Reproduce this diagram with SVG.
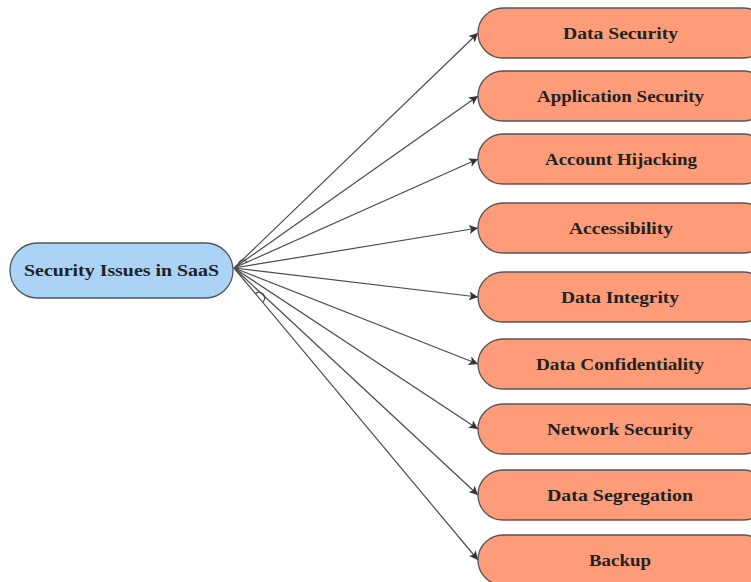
<svg xmlns="http://www.w3.org/2000/svg" width="751" height="582" viewBox="0 0 751 582">
  <defs>
    <marker id="arrow" viewBox="0 0 10 10" refX="10" refY="5" markerWidth="9" markerHeight="9" markerUnits="userSpaceOnUse" orient="auto">
      <path d="M0,0 L10,5 L0,10 L2.5,5 Z" fill="#333"/>
    </marker>
    <style>
      .bg { fill: #ffffff; }
      .root { fill: #abd3f6; stroke: #555; stroke-width: 1.3; }
      .leaf { fill: #fe9c79; stroke: #555; stroke-width: 1.3; }
      .label { font-family: "Liberation Serif", "Times New Roman", serif; font-weight: bold; font-size: 17px; fill: #222; text-anchor: middle; }
      .edge { fill: none; stroke: #4a4a4a; stroke-width: 1.2; marker-end: url(#arrow); }
      .hop { fill: none; stroke: #4a4a4a; stroke-width: 1.2; }
    </style>
  </defs>
  <rect class="bg" x="0" y="0" width="751" height="582"/>

  <g id="connectors">
    <path class="edge" d="M234,268 L478,33"/>
    <path class="edge" d="M234,268 L478,96"/>
    <path class="edge" d="M234,268 L478,159"/>
    <path class="edge" d="M234,268 L478,228"/>
    <path class="edge" d="M234,268 L478,297"/>
    <path class="edge" d="M234,268 L478,364"/>
    <path class="edge" d="M234,268 L478,429"/>
    <path class="edge" d="M234,268 L478,495"/>
    <path class="edge" d="M234,268 L478,560"/>
    <!-- line jumps near the source -->
    <path class="hop" d="M239,265 A4,4 0 0 1 247,263"/>
    <path class="hop" d="M255,294 A5,5 0 0 1 263,302"/>
  </g>

  <g id="node-root">
    <rect class="root" x="10" y="243" width="223" height="55" rx="27.5" ry="27.5"/>
    <text class="label" x="121.5" y="276" textLength="195" lengthAdjust="spacingAndGlyphs">Security Issues in SaaS</text>
  </g>

  <g id="node-data-security">
    <rect class="leaf" x="478" y="8" width="290" height="50" rx="25" ry="25"/>
    <text class="label" x="620.5" y="38.5" textLength="115" lengthAdjust="spacingAndGlyphs">Data Security</text>
  </g>
  <g id="node-application-security">
    <rect class="leaf" x="478" y="71" width="290" height="50" rx="25" ry="25"/>
    <text class="label" x="620.5" y="101.5" textLength="167" lengthAdjust="spacingAndGlyphs">Application Security</text>
  </g>
  <g id="node-account-hijacking">
    <rect class="leaf" x="478" y="134" width="290" height="50" rx="25" ry="25"/>
    <text class="label" x="621" y="164.5" textLength="152" lengthAdjust="spacingAndGlyphs">Account Hijacking</text>
  </g>
  <g id="node-accessibility">
    <rect class="leaf" x="478" y="203" width="290" height="50" rx="25" ry="25"/>
    <text class="label" x="621" y="233.5" textLength="104" lengthAdjust="spacingAndGlyphs">Accessibility</text>
  </g>
  <g id="node-data-integrity">
    <rect class="leaf" x="478" y="272" width="290" height="50" rx="25" ry="25"/>
    <text class="label" x="620" y="302.5" textLength="118" lengthAdjust="spacingAndGlyphs">Data Integrity</text>
  </g>
  <g id="node-data-confidentiality">
    <rect class="leaf" x="478" y="339" width="290" height="50" rx="25" ry="25"/>
    <text class="label" x="620" y="369.5" textLength="168" lengthAdjust="spacingAndGlyphs">Data Confidentiality</text>
  </g>
  <g id="node-network-security">
    <rect class="leaf" x="478" y="404" width="290" height="50" rx="25" ry="25"/>
    <text class="label" x="620" y="434.5" textLength="146" lengthAdjust="spacingAndGlyphs">Network Security</text>
  </g>
  <g id="node-data-segregation">
    <rect class="leaf" x="478" y="470" width="290" height="50" rx="25" ry="25"/>
    <text class="label" x="620" y="500.5" textLength="146" lengthAdjust="spacingAndGlyphs">Data Segregation</text>
  </g>
  <g id="node-backup">
    <rect class="leaf" x="478" y="535" width="290" height="50" rx="25" ry="25"/>
    <text class="label" x="620" y="565.5" textLength="62" lengthAdjust="spacingAndGlyphs">Backup</text>
  </g>
</svg>
